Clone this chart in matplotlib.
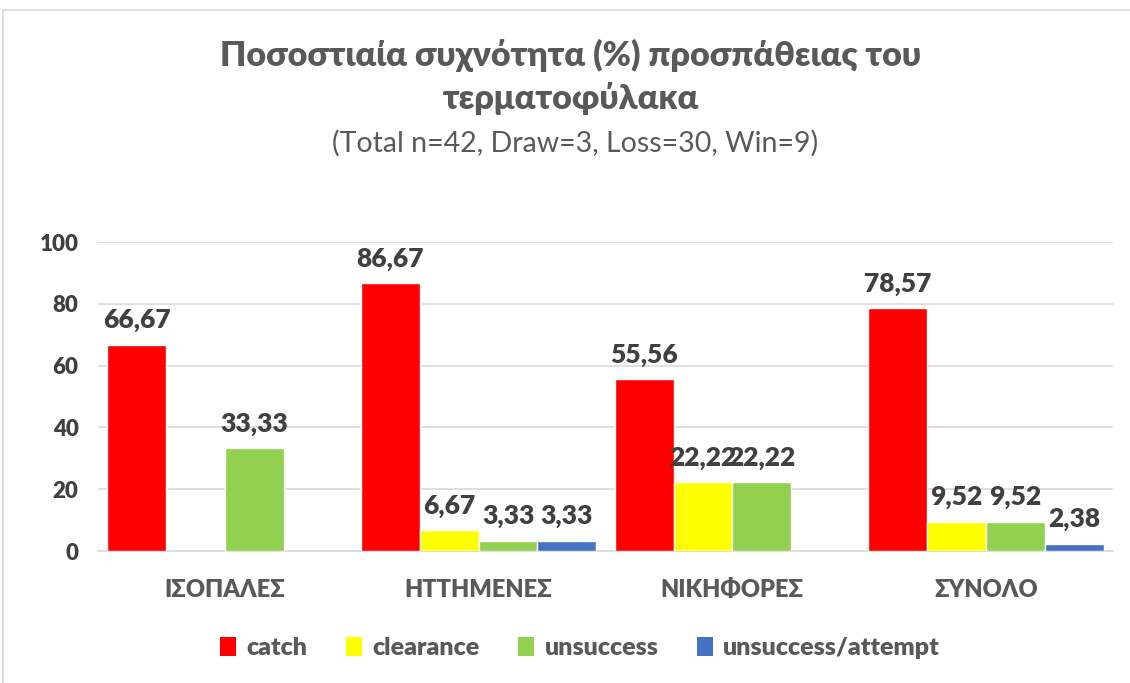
import matplotlib
matplotlib.use("Agg")
import matplotlib.pyplot as plt
from matplotlib.lines import Line2D
from matplotlib.patches import Patch
import numpy as np

plt.rcParams['font.family'] = ['Lato', 'Noto Sans', 'DejaVu Sans']

categories = ["ΙΣΟΠΑΛΕΣ", "ΗΤΤΗΜΕΝΕΣ", "ΝΙΚΗΦΟΡΕΣ", "ΣΥΝΟΛΟ"]
series_names = ["catch", "clearance", "unsuccess", "unsuccess/attempt"]
catch = [66.67, 86.67, 55.56, 78.57]
clearance = [0, 6.67, 22.22, 9.52]
unsuccess = [33.33, 3.33, 22.22, 9.52]
unsuccess_attempt = [0, 3.33, 0, 2.38]
colors = ["#FF0000", "#FFFF00", "#92D050", "#4472C4"]
yticks = [0, 20, 40, 60, 80, 100]

title = "Ποσοστιαία συχνότητα (%) προσπάθειας του\nτερματοφύλακα"
subtitle = "(Total n=42, Draw=3, Loss=30, Win=9)"

W, H = 1130, 683
fig = plt.figure(figsize=(W / 100, H / 100), dpi=100)
ax = fig.add_axes([98 / W, 1 - 551 / H, (1113 - 98) / W, (551 - 242) / H])

data = [catch, clearance, unsuccess, unsuccess_attempt]
x = np.arange(len(categories))
bw = 0.232
txtc = "#404040"
for i, (vals, c) in enumerate(zip(data, colors)):
    xs = x + (i - 1.5) * bw
    ax.bar(xs, vals, width=bw, color=c, edgecolor="white", linewidth=1, zorder=3)
    for xx, v in zip(xs, vals):
        if v > 0:
            ax.annotate(f"{v:.2f}".replace(".", ","), (xx, v), xytext=(0, 9),
                        textcoords="offset points", ha="center", va="bottom",
                        fontsize=19, fontweight="heavy", color=txtc)

ax.set_xlim(-0.5, len(categories) - 0.5)
ax.set_ylim(0, 100)
ax.set_yticks(yticks)
ax.set_yticklabels([str(t) for t in yticks], fontsize=16, fontweight="heavy", color=txtc)
ax.set_xticks(x)
ax.set_xticklabels(categories, fontsize=17, fontweight="heavy", color="#595959")
ax.tick_params(axis="both", length=0)
ax.tick_params(axis="x", pad=20)
ax.tick_params(axis="y", pad=14)
ax.grid(axis="y", color="#D9D9D9", linewidth=1.2, zorder=0)
for s in ["top", "right", "left"]:
    ax.spines[s].set_visible(False)
ax.spines["bottom"].set_color("#D9D9D9")
ax.spines["bottom"].set_linewidth(1.2)

fig.text(571 / W, 1 - 77 / H, title, ha="center", va="center", fontsize=24.5,
         fontweight="heavy", color="#595959", linespacing=1.35)
fig.text(575 / W, 1 - 143 / H, subtitle, ha="center", va="center", fontsize=20.5,
         color="#595959")

handles = [Patch(facecolor=c, edgecolor="none") for c in colors]
leg = fig.legend(handles, series_names, loc="center", bbox_to_anchor=(580 / W, 1 - 648 / H),
                 ncol=4, frameon=False, handlelength=0.65, handleheight=0.8,
                 handletextpad=0.4, columnspacing=1.55,
                 prop={"size": 18, "weight": "heavy"})
for t in leg.get_texts():
    t.set_color("#595959")

# chart border (top and left visible)
fig.add_artist(Line2D([3 / W, 1], [1 - 10 / H, 1 - 10 / H], color="#D9D9D9", lw=1.2))
fig.add_artist(Line2D([3 / W, 3 / W], [0, 1 - 10 / H], color="#D9D9D9", lw=1.2))

fig.savefig("out.png", dpi=100)
